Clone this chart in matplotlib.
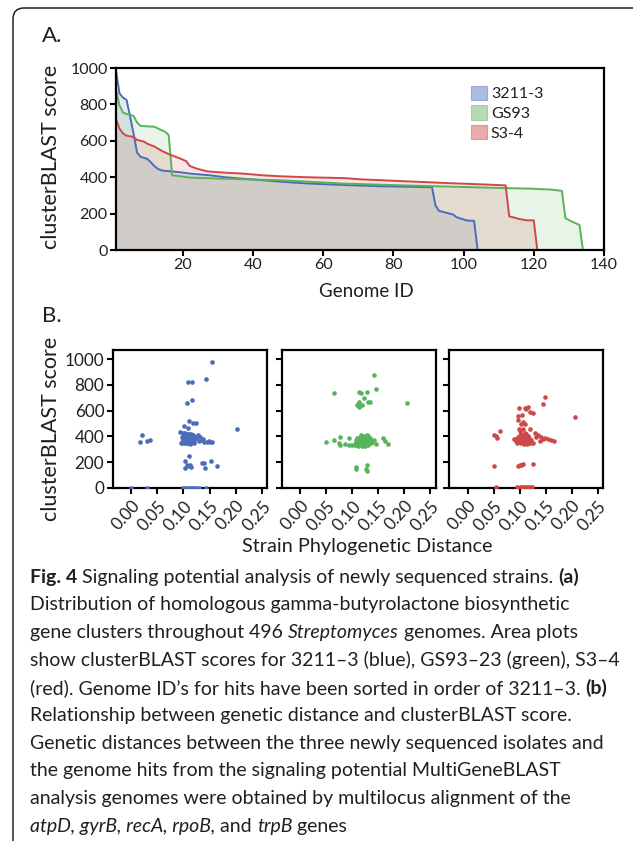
import numpy as np
import matplotlib
matplotlib.use("Agg")
import matplotlib.pyplot as plt
from matplotlib.patches import FancyBboxPatch, Patch

plt.rcParams['font.family'] = ['Lato', 'DejaVu Sans']

W, H = 633, 841

# ---- panel A: clusterBLAST score per genome (breakpoints)
blue_id = [1, 2, 3, 4, 5, 6, 7, 8, 10, 11, 12, 13, 14, 16, 19, 22, 28, 32, 37, 43, 48, 56, 66, 77, 91,
           92, 93, 95, 97, 98, 100, 101, 103, 104]
blue_sc = [985, 860, 837, 825, 735, 640, 535, 512, 500, 480, 460, 445, 437, 433, 428, 420, 410, 400, 392, 383,
           375, 365, 357, 350, 345, 245, 215, 205, 195, 180, 168, 162, 160, 0]

green_id = [1, 2, 3, 4, 6, 7, 8, 12, 14, 15, 16, 17, 19, 22, 31, 48, 66, 83, 112, 119, 125, 128, 129, 131, 133, 134]
green_sc = [880, 795, 755, 747, 737, 700, 682, 677, 658, 650, 632, 410, 406, 398, 392, 383, 365, 355, 340, 337,
            332, 325, 175, 155, 138, 0]

red_id = [1, 2, 3, 4, 6, 7, 9, 10, 12, 14, 16, 18, 20, 21, 22, 24, 27, 32, 37, 43, 48, 55, 66, 71, 83, 95, 106,
          112, 113, 116, 118, 120, 121]
red_sc = [720, 667, 640, 628, 621, 605, 595, 583, 568, 545, 527, 512, 497, 488, 462, 447, 432, 425, 420, 410, 405,
          400, 395, 388, 378, 368, 360, 355, 185, 170, 163, 163, 0]

# ---- panel B: phylogenetic distance vs score
blue_dist = [0.154, 0.143, 0.109, 0.116, 0.117, 0.107, 0.111, 0.118, 0.124, 0.102, 0.108, 0.203, 0.094, 0.100,
             0.020, 0.017, 0.031, 0.036,
             0.127, 0.132, 0.138, 0.145, 0.151, 0.155, 0.140, 0.129, 0.135, 0.148, 0.125, 0.122,
             0.096, 0.098, 0.099, 0.100, 0.101, 0.102, 0.103, 0.104, 0.105, 0.106, 0.107, 0.108, 0.108, 0.109,
             0.110, 0.111, 0.112, 0.113, 0.114, 0.115, 0.116, 0.117, 0.118, 0.119, 0.120, 0.112, 0.106, 0.100,
             0.110, 0.104, 0.115, 0.097, 0.118, 0.121, 0.113,
             0.111, 0.103, 0.107, 0.113, 0.103, 0.114, 0.135, 0.140, 0.152, 0.142, 0.165, 0.110,
             0.000, 0.031, 0.100, 0.104, 0.108, 0.112, 0.116, 0.120, 0.125, 0.129, 0.143]
blue_score = [980, 848, 822, 822, 682, 659, 516, 506, 503, 480, 469, 454, 436, 423,
              410, 355, 366, 376,
              410, 397, 379, 358, 358, 353, 358, 363, 370, 365, 385, 395,
              352, 360, 372, 385, 398, 410, 350, 362, 375, 390, 402, 415, 350, 358,
              368, 380, 392, 405, 352, 362, 374, 386, 398, 410, 350, 345, 346, 346,
              420, 428, 420, 395, 355, 368, 378,
              246, 213, 176, 176, 158, 163, 194, 194, 210, 156, 171, 170,
              0, 0, 0, 0, 0, 0, 0, 0, 0, 0, 0]

green_dist = [0.141, 0.146, 0.064, 0.113, 0.117, 0.129, 0.122, 0.113, 0.112, 0.109, 0.113, 0.119, 0.131, 0.135,
              0.205,
              0.049, 0.065, 0.076, 0.074, 0.077, 0.094, 0.093, 0.099, 0.087,
              0.159, 0.163, 0.168, 0.146, 0.138, 0.142,
              0.105, 0.106, 0.107, 0.108, 0.109, 0.110, 0.111, 0.112, 0.113, 0.114, 0.115, 0.116, 0.117, 0.118,
              0.119, 0.120, 0.121, 0.122, 0.123, 0.124, 0.125, 0.126, 0.127, 0.128, 0.129, 0.130, 0.131, 0.132,
              0.133, 0.134, 0.136, 0.137, 0.118, 0.112, 0.124, 0.128, 0.116, 0.109, 0.121, 0.130,
              0.108, 0.108, 0.129, 0.127, 0.128]
green_score = [876, 770, 739, 744, 739, 747, 700, 669, 648, 643, 627, 643, 669, 669,
               661,
               355, 376, 394, 350, 332, 389, 337, 332, 345,
               389, 363, 345, 345, 358, 376,
               330, 345, 360, 375, 390, 335, 350, 365, 380, 395, 340, 355, 370, 385,
               400, 330, 345, 360, 375, 390, 405, 340, 355, 370, 385, 400, 345, 360,
               375, 390, 350, 368, 325, 322, 322, 410, 408, 368, 395, 335,
               166, 150, 176, 145, 130]

red_dist = [0.148, 0.145, 0.207, 0.099, 0.110, 0.116, 0.112, 0.121, 0.126, 0.097, 0.105, 0.097, 0.107, 0.102,
            0.111, 0.098, 0.106, 0.120, 0.063, 0.050, 0.054, 0.057,
            0.129, 0.135, 0.142, 0.148, 0.154, 0.161, 0.167, 0.139, 0.126, 0.145, 0.132,
            0.090, 0.093, 0.095, 0.096, 0.098, 0.099, 0.100, 0.101, 0.102, 0.103, 0.104, 0.105, 0.106, 0.107,
            0.108, 0.109, 0.110, 0.111, 0.112, 0.113, 0.114, 0.115, 0.116, 0.117, 0.118, 0.119, 0.120, 0.122,
            0.110, 0.101, 0.108,
            0.050, 0.097, 0.102, 0.107, 0.126, 0.100,
            0.055, 0.096, 0.100, 0.104, 0.108, 0.112, 0.116, 0.120, 0.124]
red_score = [708, 653, 552, 617, 617, 630, 609, 586, 578, 557, 565, 526, 513, 500,
             495, 461, 456, 456, 441, 410, 404, 384,
             423, 410, 397, 389, 379, 371, 368, 363, 350, 380, 395,
             378, 365, 390, 352, 405, 372, 385, 360, 418, 348, 395, 375, 362, 408,
             385, 350, 398, 370, 358, 415, 388, 345, 375, 400, 362, 385, 352, 370,
             430, 440, 345,
             171, 171, 176, 187, 187, 178,
             8, 5, 5, 5, 5, 5, 5, 5, 5]

c_blue = '#4a6db8'
c_green = '#58b35a'
c_red = '#cf4848'
labels = ['3211-3', 'GS93', 'S3-4']
text_c = '#231f20'


def fx(x):
    return x / W


def fy(y):
    return 1 - y / H


fig = plt.figure(figsize=(W / 100, H / 100), dpi=100)

# rounded frame around the figure
frame = FancyBboxPatch((13 / 100, -1.0), 8.0, (H - 8) / 100 + 1.0,
                       boxstyle="round,pad=0,rounding_size=0.11",
                       transform=fig.dpi_scale_trans, fill=False, lw=1.1, ec='#222222')
fig.patches.append(frame)


def style_axes(ax, size=11.5):
    for s in ax.spines.values():
        s.set_linewidth(1.6)
    ax.tick_params(width=1.5, length=4, labelsize=size, pad=2, colors='black', labelcolor=text_c)


# ---- A
axA = fig.add_axes([fx(116), fy(250), fx(604) - fx(116), (250 - 68) / H])
for ids, sc, c in [(blue_id, blue_sc, c_blue), (green_id, green_sc, c_green), (red_id, red_sc, c_red)]:
    axA.fill_between(ids, sc, 0, color=c, alpha=0.14, lw=0)
for ids, sc, c in [(blue_id, blue_sc, c_blue), (green_id, green_sc, c_green), (red_id, red_sc, c_red)]:
    axA.plot(ids, sc, color=c, lw=1.4)
axA.set_xlim(1, 140)
axA.set_ylim(0, 1000)
axA.set_xticks([20, 40, 60, 80, 100, 120, 140])
axA.set_yticks([0, 200, 400, 600, 800, 1000])
style_axes(axA)
axA.set_xlabel('Genome ID', fontsize=13.5, color=text_c)
axA.xaxis.set_label_coords((366 - 116) / 488, -(283 - 250) / 182)
handles = [Patch(facecolor=c, alpha=0.45, edgecolor=c, lw=0.8) for c in (c_blue, c_green, c_red)]
axA.legend(handles, labels, loc='upper right', bbox_to_anchor=(0.895, 0.955), frameon=False,
           fontsize=11.5, handlelength=1.0, handleheight=1.0, handletextpad=0.25, labelspacing=0.25,
           borderaxespad=0.2, labelcolor=text_c)

fig.text(fx(42), fy(36), 'A.', fontsize=16, va='center', ha='left', color=text_c)
fig.text(fx(42), fy(316), 'B.', fontsize=16, va='center', ha='left', color=text_c)
fig.text(fx(51), fy(157), 'clusterBLAST score', fontsize=15.5, rotation=90, ha='center', va='center',
         color=text_c)
fig.text(fx(51), fy(429), 'clusterBLAST score', fontsize=15.5, rotation=90, ha='center', va='center',
         color=text_c)

# ---- B
lefts = [112.7, 282, 449.3]
widths = [154.5, 153.5, 153.5]
data = [(blue_dist, blue_score, c_blue), (green_dist, green_score, c_green), (red_dist, red_score, c_red)]
for i, (l, w, (d, s, c)) in enumerate(zip(lefts, widths, data)):
    ax = fig.add_axes([fx(l), fy(488), w / W, (488 - 350) / H])
    ax.scatter(d, s, s=11, color=c, lw=0, zorder=3)
    ax.set_xlim(-0.035, 0.26)
    ax.set_ylim(0, 1070)
    ax.set_yticks([0, 200, 400, 600, 800, 1000])
    ax.set_xticks([0.0, 0.05, 0.10, 0.15, 0.20, 0.25])
    ax.set_xticklabels(['0.00', '0.05', '0.10', '0.15', '0.20', '0.25'], rotation=48, ha='right',
                       rotation_mode='anchor')
    style_axes(ax, 12.3)
    ax.tick_params(axis='x', pad=3)
    if i != 0:
        ax.set_yticklabels([])
    if i == 1:
        ax.set_xlabel('Strain Phylogenetic Distance', fontsize=14.3, color=text_c)
        ax.xaxis.set_label_coords((367 - l) / w, -(538 - 488) / 138)

# ---- caption
caption = [
    [("Fig. 4", 'bold'), (" Signaling potential analysis of newly sequenced strains. ", 'normal'), ("(a)", 'bold')],
    [("Distribution of homologous gamma-butyrolactone biosynthetic", 'normal')],
    [("gene clusters throughout 496 ", 'normal'), ("Streptomyces", 'italic'), (" genomes. Area plots", 'normal')],
    [("show clusterBLAST scores for 3211\u20133 (blue), GS93\u201323 (green), S3\u20134", 'normal')],
    [("(red). Genome ID\u2019s for hits have been sorted in order of 3211\u20133. ", 'normal'), ("(b)", 'bold')],
    [("Relationship between genetic distance and clusterBLAST score.", 'normal')],
    [("Genetic distances between the three newly sequenced isolates and", 'normal')],
    [("the genome hits from the signaling potential MultiGeneBLAST", 'normal')],
    [("analysis genomes were obtained by multilocus alignment of the", 'normal')],
    [("atpD, gyrB, recA, rpoB,", 'italic'), (" and ", 'normal'), ("trpB", 'italic'), (" genes", 'normal')],
]
cap_size = 14.0
fig.canvas.draw()
renderer = fig.canvas.get_renderer()
y0 = 577
for k, line in enumerate(caption):
    x = 30
    y = y0 + k * 27.7
    for txt, sty in line:
        kw = dict(fontsize=cap_size, va='center', ha='left', color=text_c, fontweight='normal')
        if sty == 'bold':
            kw['fontweight'] = 'bold'
        elif sty == 'italic':
            kw['fontstyle'] = 'italic'
        t = fig.text(fx(x), fy(y), txt, **kw)
        bb = t.get_window_extent(renderer)
        x += bb.width

fig.savefig('out.png', dpi=100)
